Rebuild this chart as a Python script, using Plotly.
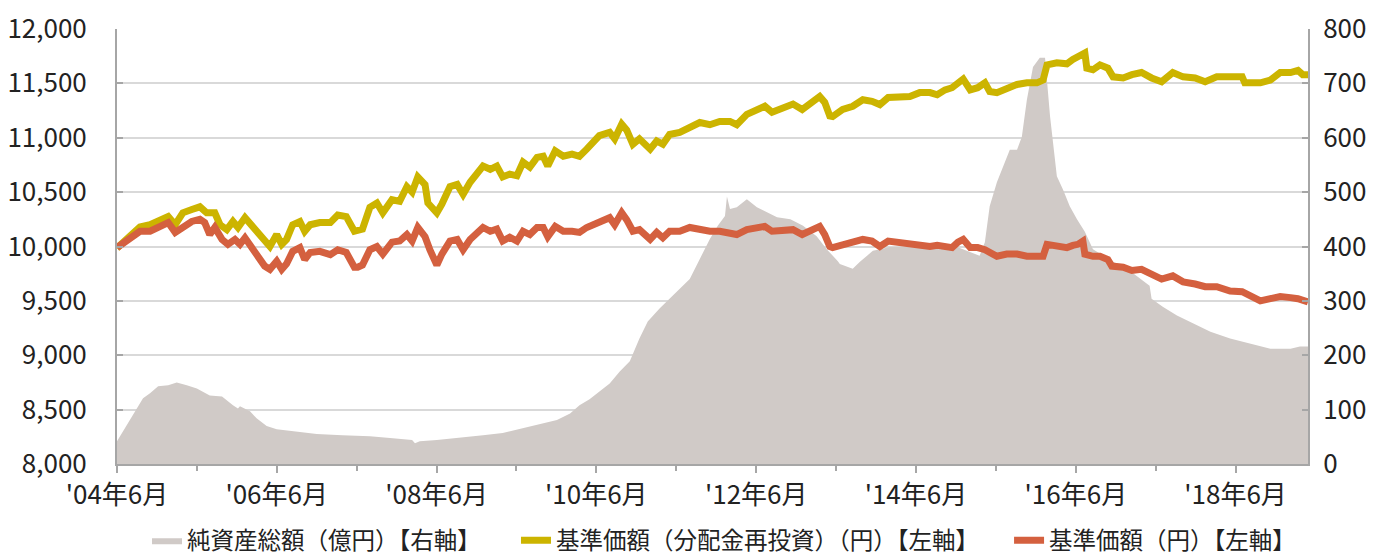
import plotly.graph_objects as go

# ---- data ----
nav_reinv_dates = ["2004-06-01","2004-07-29","2004-09-14","2004-10-30","2004-12-15","2005-01-21","2005-02-22","2005-03-29","2005-05-09","2005-06-15","2005-07-16","2005-08-22","2005-09-15","2005-10-16","2005-11-13","2005-12-06","2006-01-07","2006-02-09","2006-03-06","2006-04-07","2006-05-01","2006-06-01","2006-06-24","2006-07-16","2006-08-13","2006-09-15","2006-10-07","2006-11-01","2006-12-15","2007-02-01","2007-03-07","2007-04-15","2007-05-22","2007-06-28","2007-08-01","2007-09-02","2007-09-29","2007-11-10","2007-12-15","2008-01-17","2008-02-10","2008-03-07","2008-04-09","2008-04-22","2008-06-02","2008-06-25","2008-08-01","2008-09-03","2008-09-30","2008-11-01","2008-12-03","2008-12-30","2009-02-01","2009-03-03","2009-03-30","2009-05-01","2009-06-03","2009-07-01","2009-08-01","2009-09-03","2009-10-01","2009-10-22","2009-11-25","2010-01-01","2010-02-10","2010-03-16","2010-04-18","2010-05-15","2010-06-15","2010-08-01","2010-08-24","2010-09-25","2010-10-18","2010-11-15","2010-12-15","2011-02-02","2011-03-04","2011-04-01","2011-05-02","2011-06-17","2011-08-02","2011-09-17","2011-11-02","2011-12-17","2012-02-02","2012-03-04","2012-04-19","2012-06-04","2012-07-10","2012-08-12","2012-09-28","2012-11-16","2012-12-28","2013-02-03","2013-03-18","2013-04-10","2013-05-03","2013-05-16","2013-07-01","2013-08-16","2013-10-01","2013-11-12","2013-12-18","2014-01-25","2014-03-19","2014-05-04","2014-06-18","2014-08-04","2014-09-06","2014-10-12","2014-11-13","2014-12-10","2015-01-03","2015-02-04","2015-03-10","2015-04-12","2015-05-04","2015-06-06","2015-07-21","2015-09-06","2015-10-21","2015-12-06","2016-01-03","2016-01-21","2016-03-06","2016-04-21","2016-05-18","2016-06-10","2016-07-12","2016-07-21","2016-08-18","2016-09-19","2016-10-25","2016-11-18","2017-01-03","2017-02-12","2017-03-28","2017-05-13","2017-06-28","2017-08-18","2017-10-04","2017-11-28","2018-01-13","2018-03-07","2018-05-07","2018-07-01","2018-07-13","2018-09-22","2018-11-07","2018-12-22","2019-02-07","2019-03-13","2019-04-04","2019-04-28"]
nav_reinv = [9985,10090,10180,10200,10250,10275,10200,10310,10340,10365,10310,10310,10200,10155,10230,10175,10265,10185,10130,10040,10000,10110,10020,10065,10200,10230,10140,10200,10220,10220,10290,10275,10140,10160,10360,10400,10310,10430,10415,10550,10500,10640,10570,10400,10310,10390,10550,10570,10480,10590,10680,10740,10710,10740,10640,10665,10650,10775,10730,10820,10830,10740,10880,10830,10850,10830,10895,10960,11020,11050,10990,11125,11070,10940,10990,10895,10970,10940,11030,11050,11100,11140,11120,11150,11150,11120,11215,11260,11290,11235,11280,11310,11260,11310,11380,11325,11200,11195,11260,11290,11350,11335,11305,11370,11370,11380,11415,11415,11395,11440,11460,11505,11540,11440,11460,11505,11425,11415,11460,11490,11505,11505,11530,11670,11690,11680,11720,11745,11780,11640,11625,11670,11640,11560,11550,11580,11600,11550,11515,11600,11560,11550,11515,11560,11560,11560,11505,11505,11530,11600,11600,11620,11580,11580]

nav_dates = ["2004-06-01","2004-07-29","2004-09-14","2004-10-30","2004-12-15","2005-01-21","2005-02-22","2005-03-29","2005-05-09","2005-06-15","2005-07-07","2005-07-30","2005-08-22","2005-09-24","2005-10-21","2005-11-22","2005-12-15","2006-01-07","2006-02-09","2006-03-06","2006-04-07","2006-05-01","2006-06-01","2006-06-24","2006-07-16","2006-08-13","2006-09-15","2006-10-07","2006-11-01","2006-12-15","2007-02-01","2007-03-07","2007-04-15","2007-05-22","2007-06-06","2007-06-28","2007-08-01","2007-09-02","2007-09-29","2007-11-10","2007-12-15","2008-01-17","2008-02-10","2008-03-07","2008-04-09","2008-05-01","2008-06-02","2008-06-25","2008-08-01","2008-09-03","2008-09-30","2008-11-01","2008-12-03","2008-12-30","2009-02-01","2009-03-03","2009-03-30","2009-05-01","2009-06-03","2009-07-01","2009-08-01","2009-09-03","2009-10-01","2009-10-22","2009-11-25","2010-01-01","2010-02-10","2010-03-16","2010-04-18","2010-05-15","2010-06-15","2010-08-01","2010-08-24","2010-09-25","2010-10-18","2010-11-15","2010-12-15","2011-02-02","2011-03-04","2011-04-01","2011-05-02","2011-06-17","2011-08-02","2011-09-17","2011-11-02","2011-12-17","2012-02-02","2012-03-04","2012-04-19","2012-06-04","2012-07-10","2012-08-12","2012-09-28","2012-11-16","2012-12-28","2013-02-03","2013-03-18","2013-04-10","2013-05-03","2013-05-16","2013-07-01","2013-08-16","2013-10-01","2013-11-12","2013-12-18","2014-01-25","2014-03-19","2014-05-04","2014-06-18","2014-08-04","2014-09-06","2014-10-12","2014-11-13","2014-12-10","2015-01-03","2015-02-04","2015-03-10","2015-04-12","2015-05-04","2015-06-06","2015-07-21","2015-09-06","2015-10-21","2015-12-06","2016-01-03","2016-01-21","2016-03-06","2016-04-21","2016-05-18","2016-06-10","2016-07-03","2016-07-12","2016-08-18","2016-09-19","2016-10-25","2016-11-12","2017-01-03","2017-02-12","2017-03-28","2017-05-13","2017-06-28","2017-08-18","2017-10-04","2017-11-28","2018-01-13","2018-03-07","2018-05-07","2018-07-01","2018-08-07","2018-09-22","2018-11-07","2018-12-22","2019-02-07","2019-03-13","2019-04-28"]
nav = [9990,10080,10140,10140,10185,10220,10130,10185,10230,10250,10220,10110,10175,10065,10020,10065,10020,10080,9990,9910,9820,9790,9865,9790,9840,9955,9990,9880,9945,9955,9925,9970,9945,9810,9810,9830,9970,10000,9930,10040,10050,10110,10050,10175,10090,9970,9830,9930,10050,10065,9970,10065,10130,10175,10140,10160,10050,10085,10050,10140,10110,10175,10175,10090,10185,10140,10140,10130,10175,10200,10230,10265,10200,10310,10245,10140,10155,10065,10130,10080,10140,10140,10175,10155,10140,10140,10130,10110,10155,10175,10185,10140,10140,10155,10110,10140,10185,10110,10000,9990,10020,10050,10065,10050,10000,10050,10040,10020,10020,10000,10010,10000,9990,10040,10065,9990,9990,9970,9945,9910,9930,9930,9910,9910,9910,10020,10010,9990,10010,10020,10050,9930,9910,9910,9880,9820,9810,9780,9790,9750,9700,9730,9675,9655,9630,9630,9590,9585,9540,9500,9520,9540,9530,9520,9490]

assets_dates = ["2004-06-01","2004-07-16","2004-08-22","2004-09-28","2004-10-30","2004-12-06","2005-01-21","2005-03-01","2005-04-16","2005-06-01","2005-07-30","2005-09-24","2005-11-13","2005-12-06","2005-12-15","2006-01-30","2006-03-01","2006-04-16","2006-06-01","2006-09-01","2006-12-01","2007-03-28","2007-06-15","2007-08-01","2007-11-01","2008-02-10","2008-02-23","2008-03-16","2008-06-02","2008-09-16","2008-12-30","2009-03-30","2009-07-01","2009-10-01","2009-12-03","2010-02-01","2010-03-16","2010-05-01","2010-06-15","2010-08-01","2010-09-16","2010-11-01","2010-12-15","2011-01-22","2011-03-17","2011-05-02","2011-06-17","2011-08-02","2011-09-17","2011-11-02","2011-12-08","2012-01-10","2012-01-19","2012-02-02","2012-03-04","2012-04-19","2012-06-04","2012-07-19","2012-09-04","2012-11-04","2013-01-01","2013-03-04","2013-04-19","2013-06-09","2013-06-18","2013-08-16","2013-09-18","2013-11-16","2014-02-03","2014-05-17","2014-09-19","2014-12-06","2015-02-04","2015-03-19","2015-04-12","2015-05-04","2015-06-06","2015-07-03","2015-08-04","2015-09-06","2015-09-28","2015-10-21","2015-11-18","2015-12-19","2016-01-12","2016-02-04","2016-03-06","2016-04-03","2016-05-04","2016-06-06","2016-07-12","2016-08-18","2016-10-03","2016-11-18","2017-01-21","2017-03-06","2017-05-04","2017-05-13","2017-07-03","2017-09-06","2017-11-19","2018-02-06","2018-05-07","2018-08-07","2018-11-07","2019-02-07","2019-03-22","2019-04-28"]
assets = [42,71,97,121,130,143,145,150,145,139,126,124,108,102,106,97,84,70,64,60,55,53,52,51,48,44,38,42,44,48,53,57,66,75,81,93,108,119,134,148,170,189,231,262,286,304,322,340,377,414,438,456,492,469,472,487,472,463,454,450,438,419,395,373,368,359,372,392,399,399,395,399,390,383,408,474,518,547,578,578,602,670,730,747,747,639,529,505,474,450,427,395,383,372,359,346,328,304,289,273,258,243,231,222,212,212,216,216]

names = ["純資産総額（億円）【右軸】", "基準価額（分配金再投資）（円）【左軸】", "基準価額（円）【左軸】"]
left_ticks = [8000, 8500, 9000, 9500, 10000, 10500, 11000, 11500, 12000]
right_ticks = [0, 100, 200, 300, 400, 500, 600, 700, 800]
x_range = ["2004-06-01", "2019-04-28"]

FONT = "Noto Sans CJK JP"
AXIS_GRAY = "#a6a6a6"

fig = go.Figure()
fig.add_trace(go.Scatter(x=assets_dates, y=assets, name=names[0], mode="lines",
                         fill="tozeroy", fillcolor="#d0cac7", line=dict(width=0, color="#d0cac7"),
                         yaxis="y", legend="legend"))
fig.add_trace(go.Scatter(x=nav_reinv_dates, y=nav_reinv, name=names[1], mode="lines",
                         line=dict(width=7, color="#ccb400"), yaxis="y2", legend="legend2"))
fig.add_trace(go.Scatter(x=nav_dates, y=nav, name=names[2], mode="lines",
                         line=dict(width=7, color="#d4603f"), yaxis="y2", legend="legend3"))

leg_common = dict(orientation="h", xanchor="left", y=-0.2265, yanchor="bottom",
                  font=dict(size=23.5, color="#222222"), bgcolor="rgba(0,0,0,0)")

# page body has an 8px default margin, so the figure is offset by 8px;
# the figure is taller than the window so the legend can sit at the bottom edge
fig.update_layout(
    width=1370, height=566,
    margin=dict(l=109, r=70, t=21, b=108),
    paper_bgcolor="white", plot_bgcolor="white",
    font=dict(family=FONT, size=26, color="#222222"),
    showlegend=True,
    legend=dict(x=0.0252, **leg_common),
    legend2=dict(x=0.3350, **leg_common),
    legend3=dict(x=0.7490, **leg_common),
    xaxis=dict(type="date", range=x_range, tick0="2004-06-01", dtick="M24",
               tickformat="'%y年%-m月", showgrid=False, zeroline=False, automargin=False,
               showline=True, linecolor=AXIS_GRAY, linewidth=2,
               ticks="outside", ticklen=7, tickwidth=2, tickcolor=AXIS_GRAY,
               minor=dict(dtick="M12", tick0="2004-06-01", ticks="outside", ticklen=5,
                          tickwidth=2, tickcolor=AXIS_GRAY, showgrid=False),
               ticklabelstandoff=0),
    yaxis=dict(range=[0, 800], side="right", tickvals=right_ticks, automargin=False,
               showgrid=True, gridcolor="#d9d9d9", gridwidth=1.5, zeroline=False,
               showline=True, linecolor=AXIS_GRAY, linewidth=2,
               ticks="inside", ticklen=6, tickcolor=AXIS_GRAY, tickwidth=2,
               ticklabelstandoff=8),
    yaxis2=dict(range=[8000, 12000], side="left", overlaying="y", tickvals=left_ticks,
                tickformat=",d", showgrid=False, zeroline=False, automargin=False,
                showline=True, linecolor=AXIS_GRAY, linewidth=2,
                ticks="inside", ticklen=6, tickcolor=AXIS_GRAY, tickwidth=2,
                ticklabelstandoff=23),
)

fig.write_html("out.html")
